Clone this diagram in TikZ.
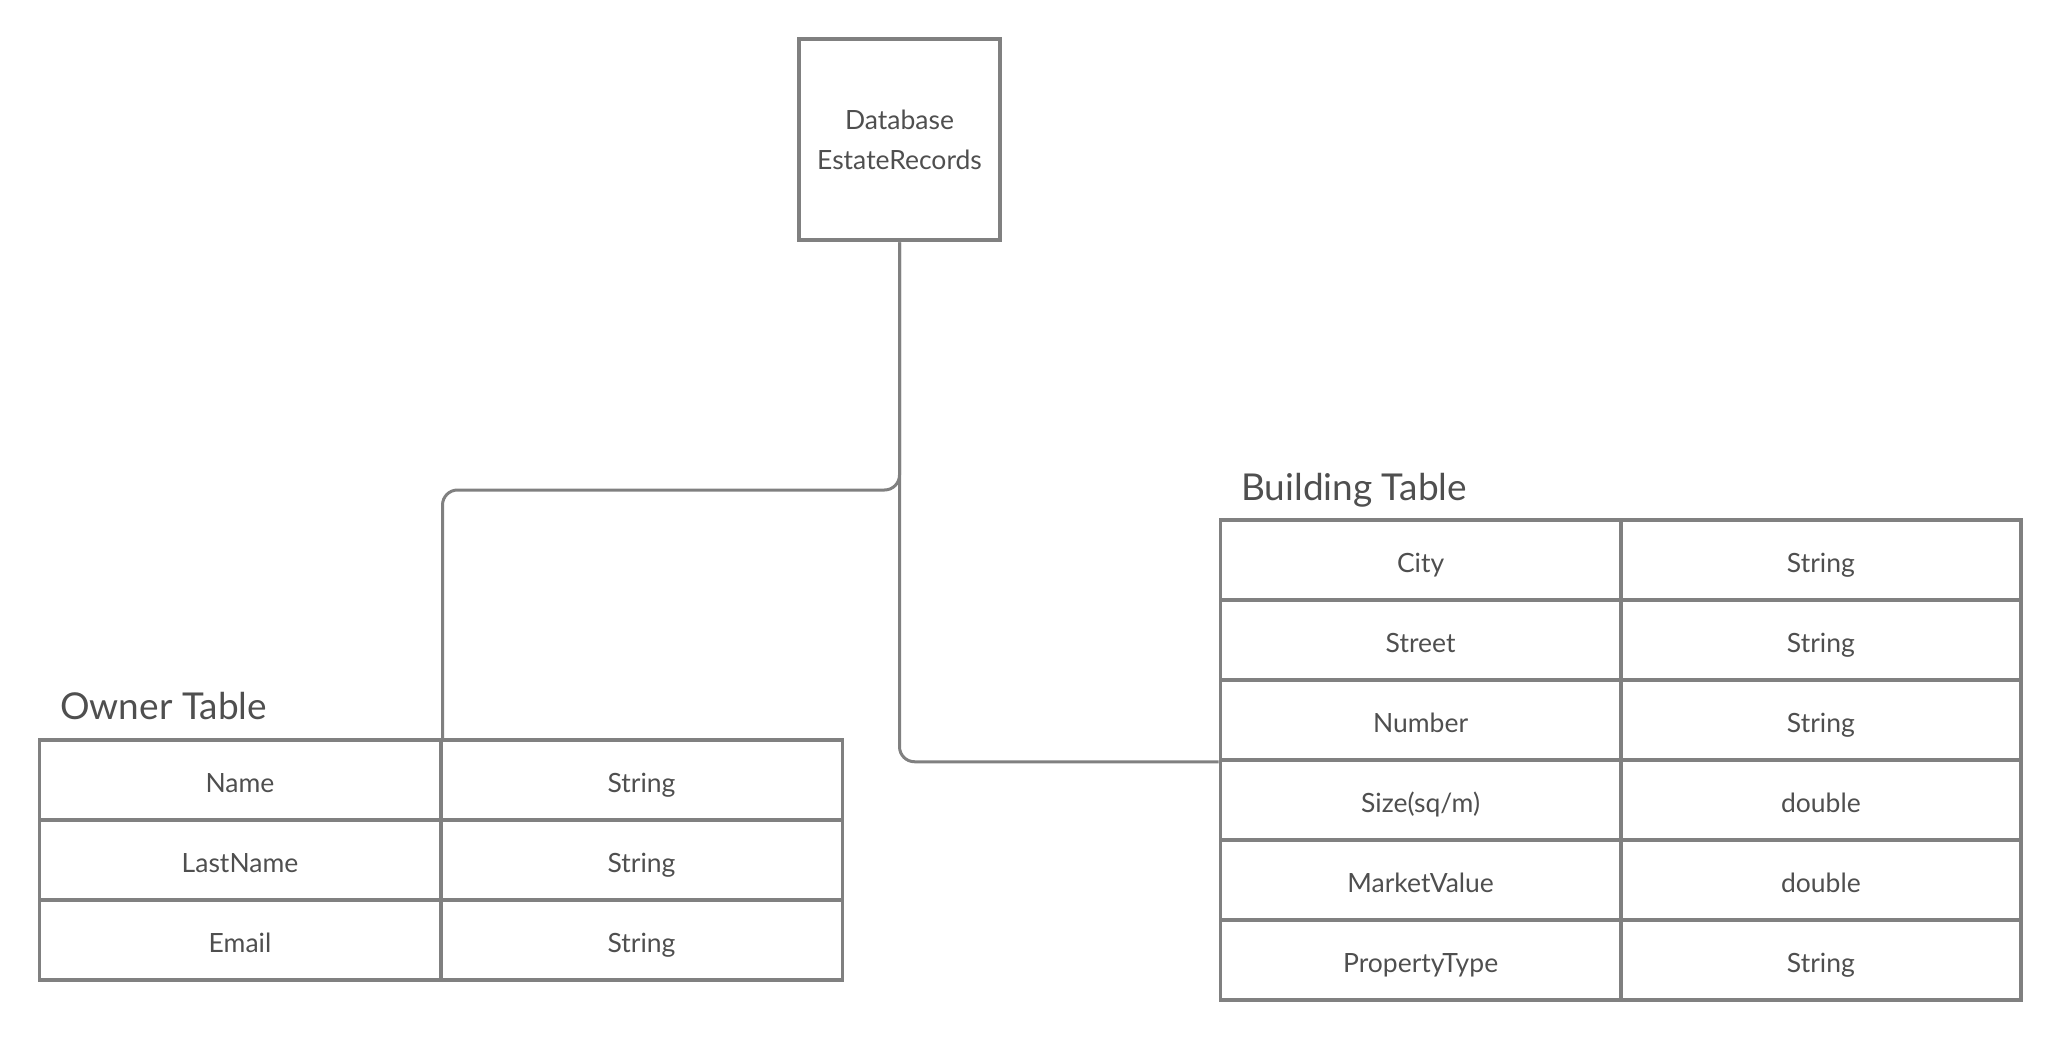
\documentclass[tikz,border=0pt]{standalone}
\usepackage{fontspec}
\setmainfont{Lato}
\definecolor{linegray}{HTML}{808080}
\definecolor{textgray}{HTML}{4F4F4F}
\tikzset{
  cellbox/.style={draw=linegray, line width=3.5pt, inner sep=0pt, text=textgray,
    font=\fontsize{26.5}{40}\selectfont, align=center},
  ocell/.style={cellbox, text height=30pt, text depth=4.4pt, minimum width=401.5pt, minimum height=80pt},
  bcell/.style={cellbox, text height=30pt, text depth=4.4pt, minimum width=400.25pt, minimum height=80pt},
  title/.style={inner sep=0pt, anchor=base west, text=textgray, font=\fontsize{37}{44}\selectfont},
  conn/.style={draw=linegray, line width=3pt, rounded corners=15pt}
}
\begin{document}
\begin{tikzpicture}[x=1pt, y=-1pt]
\useasboundingbox (0,0) rectangle (2060,1040);
% database box
\node[cellbox, line width=4pt, minimum width=201pt, minimum height=201pt] (db) at (899.5,140) {Database\\EstateRecords};
% owner table
\node[title] (otitle) at (60,719) {Owner Table};
\node[ocell] (o11) at (240,780) {Name};
\node[ocell] (o12) at (641.5,780) {String};
\node[ocell] (o21) at (240,860) {LastName};
\node[ocell] (o22) at (641.5,860) {String};
\node[ocell] (o31) at (240,940) {Email};
\node[ocell] (o32) at (641.5,940) {String};
% building table
\node[title] (btitle) at (1241,500) {Building Table};
\node[bcell] (b11) at (1420.6,560) {City};
\node[bcell] (b12) at (1820.9,560) {String};
\node[bcell] (b21) at (1420.6,640) {Street};
\node[bcell] (b22) at (1820.9,640) {String};
\node[bcell] (b31) at (1420.6,720) {Number};
\node[bcell] (b32) at (1820.9,720) {String};
\node[bcell] (b41) at (1420.6,800) {Size(sq/m)};
\node[bcell] (b42) at (1820.9,800) {double};
\node[bcell] (b51) at (1420.6,880) {MarketValue};
\node[bcell] (b52) at (1820.9,880) {double};
\node[bcell] (b61) at (1420.6,960) {PropertyType};
\node[bcell] (b62) at (1820.9,960) {String};
% connectors
\coordinate (j) at (899.5,490);
\draw[conn] (db.south) -- (j) -| (o11.north east);
\draw[conn] (db.south) |- (b31.south west);
\end{tikzpicture}
\end{document}
